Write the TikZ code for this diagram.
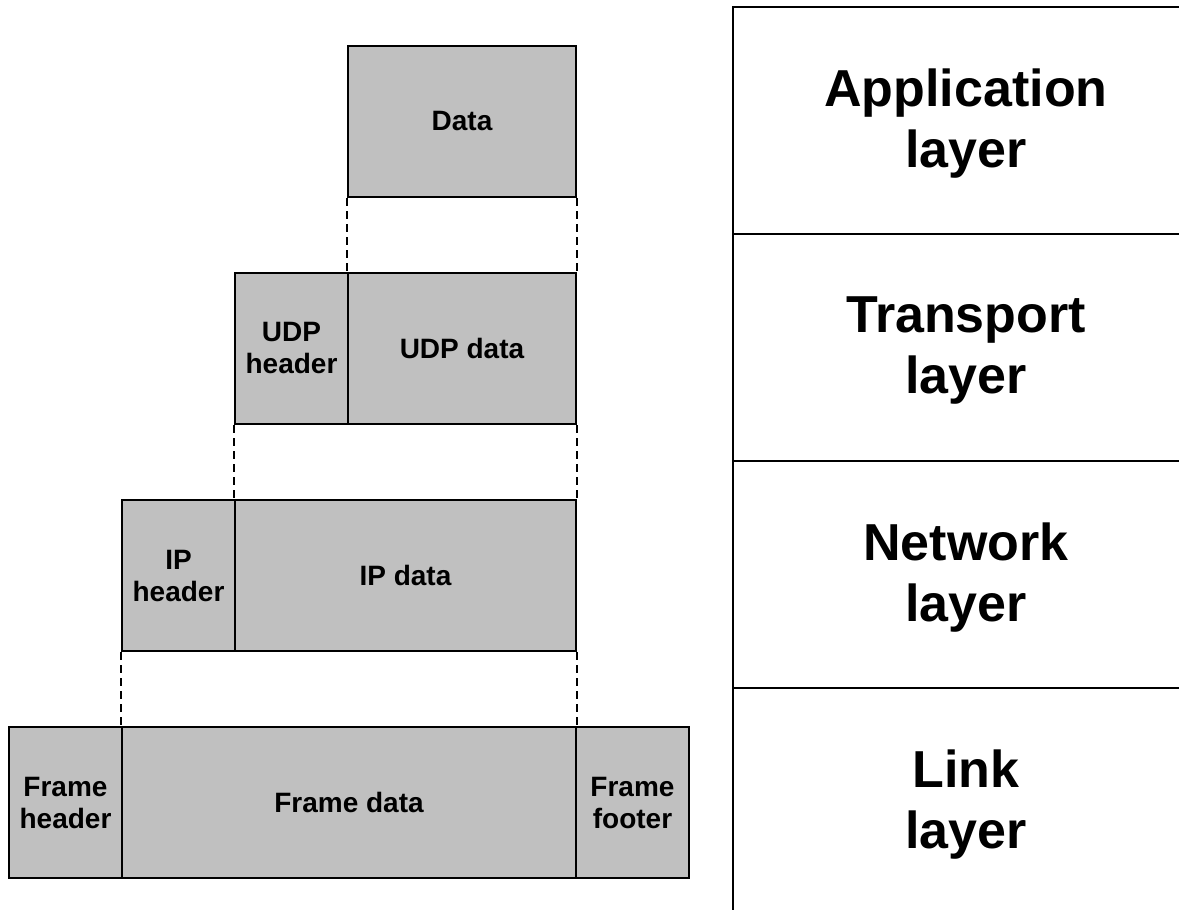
\documentclass[tikz,border=0pt]{standalone}
\usepackage{fontspec}
\setmainfont{Liberation Sans}
\definecolor{pktgray}{HTML}{C0C0C0}

\begin{document}
\begin{tikzpicture}[x=0.5pt,y=-0.5pt,
    pkt/.style={draw, fill=pktgray, line width=1pt, anchor=north west, minimum height=75.5pt,
      inner sep=0pt, align=center, font=\bfseries\fontsize{14}{16}\selectfont},
    layer/.style={align=center, font=\bfseries\fontsize{26}{30.5}\selectfont},
    guide/.style={line width=1pt, dash pattern=on 4pt off 2.5pt}]

      \useasboundingbox (0,0) rectangle (1179,910);

      % packets
      \node[pkt, minimum width=114pt] (data) at (347,45) {Data};

      \node[pkt, minimum width=56.5pt] (udphdr) at (234,272) {UDP\\header};
      \node[pkt, minimum width=114pt] (udpdata) at (347,272) {UDP data};

      \node[pkt, minimum width=56.5pt] (iphdr) at (121,499) {IP\\header};
      \node[pkt, minimum width=170.5pt] (ipdata) at (234,499) {IP data};

      \node[pkt, minimum width=56.5pt] (framehdr) at (8,726) {Frame\\header};
      \node[pkt, minimum width=227pt] (framedata) at (121,726) {Frame data};
      \node[pkt, minimum width=56.5pt] (framefoot) at (575,726) {Frame\\footer};

      \draw[guide] (data.south west) -- (udpdata.north west);
      \draw[guide] (data.south east) -- (udpdata.north east);
      \draw[guide] (udphdr.south west) -- (ipdata.north west);
      \draw[guide] (udpdata.south east) -- (ipdata.north east);
      \draw[guide] (iphdr.south west) -- (framedata.north west);
      \draw[guide] (ipdata.south east) -- (framedata.north east);

      % layers
      \draw[line width=1pt] (733,910) -- (733,7) -- (1179,7);
      \foreach \y in {233.5,461,688}
        \draw[line width=1pt] (733,\y) -- (1179,\y);

      \node[layer] (app) at (966,124) {Application\\layer};
      \node[layer] (transport) at (966,351) {Transport\\layer};
      \node[layer] (network) at (966,578) {Network\\layer};
      \node[layer] (link) at (966,805) {Link\\layer};

    \end{tikzpicture}
\end{document}
